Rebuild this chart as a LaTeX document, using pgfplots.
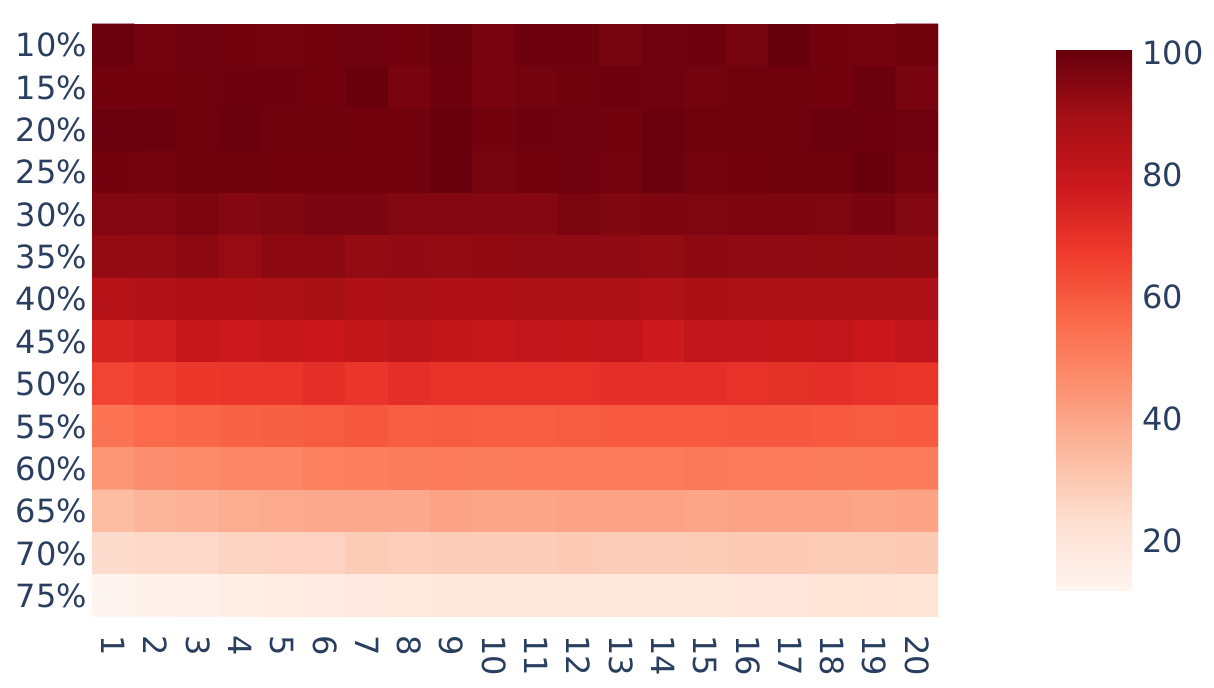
\documentclass[border=0pt]{standalone}
\usepackage{fontspec}
\setmainfont{DejaVu Sans}
\usepackage{pgfplots}
\pgfplotsset{compat=1.18}
\pgfplotsset{/pgf/number format/assume math mode=true}
\definecolor{txt}{RGB}{42,63,95}
\pgfplotsset{colormap={plotlyreds}{rgb255=(255,245,240) rgb255=(254,224,210) rgb255=(252,187,161) rgb255=(252,146,114) rgb255=(251,106,74) rgb255=(239,59,44) rgb255=(203,24,29) rgb255=(165,15,21) rgb255=(103,0,13)}}
\begin{document}
\begin{tikzpicture}
\path[use as bounding box] (0,0) rectangle (607pt,344pt);
\begin{axis}[
  at={(46pt,35.5pt)}, anchor=south west,
  scale only axis, width=423pt, height=296.5pt,
  xmin=0.5, xmax=20.5, ymin=0.5, ymax=14.5, y dir=reverse,
  enlargelimits=false,
  axis line style={draw=none}, major tick length=0pt,
  xtick={1,...,20}, ytick={1,...,14},
  xticklabels={1,2,3,4,5,6,7,8,9,10,11,12,13,14,15,16,17,18,19,20},
  yticklabels={10\%,15\%,20\%,25\%,30\%,35\%,40\%,45\%,50\%,55\%,60\%,65\%,70\%,75\%},
  tick label style={font=\fontsize{16}{19}\selectfont, text=txt},
  xticklabel style={rotate=-90, anchor=west, inner sep=0pt},
  xticklabel shift=9pt,
  yticklabel style={inner sep=0pt},
  yticklabel shift=2.3pt,
  colormap name=plotlyreds,
  point meta min=11.8, point meta max=100.4,
  colorbar,
  colorbar/width=38pt,
  colorbar style={
    scale only axis, width=38pt, height=270.5pt,
    at={(parent axis.north east)}, anchor=north west,
    xshift=50.5pt, yshift=-13pt,
    ytick={20,40,60,80,100},
    axis line style={draw=none}, major tick length=0pt,
    yticklabel style={font=\fontsize{16}{19}\selectfont, text=txt, inner sep=0pt},
    yticklabel shift=5pt,
  },
]
\addplot[matrix plot*, mesh/cols=20, point meta=explicit] table[row sep=\\, x=x, y=y, meta=v] {
x y v\\
1 1 99.5\\ 2 1 98\\ 3 1 99\\ 4 1 98.5\\ 5 1 98\\ 6 1 98.5\\ 7 1 99\\ 8 1 98.5\\ 9 1 99.8\\ 10 1 97.5\\ 11 1 99.3\\ 12 1 99.3\\ 13 1 97.8\\ 14 1 99\\ 15 1 99.3\\ 16 1 97.8\\ 17 1 100.4\\ 18 1 98.7\\ 19 1 98.2\\ 20 1 98.8\\
1 2 98.5\\ 2 2 98.5\\ 3 2 98.8\\ 4 2 99.4\\ 5 2 99.3\\ 6 2 98.5\\ 7 2 100\\ 8 2 97.3\\ 9 2 99.4\\ 10 2 97.3\\ 11 2 98.3\\ 12 2 98.8\\ 13 2 99.4\\ 14 2 99.1\\ 15 2 98.3\\ 16 2 98.8\\ 17 2 98.8\\ 18 2 98.5\\ 19 2 99.6\\ 20 2 97.6\\
1 3 99.7\\ 2 3 99.7\\ 3 3 98.9\\ 4 3 99.7\\ 5 3 98.9\\ 6 3 98.9\\ 7 3 98.6\\ 8 3 98.6\\ 9 3 100.1\\ 10 3 98.6\\ 11 3 99.4\\ 12 3 99.1\\ 13 3 98.6\\ 14 3 99.9\\ 15 3 98.9\\ 16 3 98.9\\ 17 3 98.9\\ 18 3 99.7\\ 19 3 99.3\\ 20 3 99.1\\
1 4 98.5\\ 2 4 98.1\\ 3 4 98.8\\ 4 4 98.8\\ 5 4 98.5\\ 6 4 98.5\\ 7 4 98.5\\ 8 4 98.5\\ 9 4 100.1\\ 10 4 97.7\\ 11 4 98.5\\ 12 4 99\\ 13 4 98.1\\ 14 4 99.8\\ 15 4 98.3\\ 16 4 98.5\\ 17 4 98.8\\ 18 4 98.8\\ 19 4 100\\ 20 4 97.9\\
1 5 95.5\\ 2 5 95.5\\ 3 5 96.5\\ 4 5 95\\ 5 5 96\\ 6 5 96.8\\ 7 5 96.8\\ 8 5 95.5\\ 9 5 95.5\\ 10 5 95.3\\ 11 5 95.3\\ 12 5 97\\ 13 5 96\\ 14 5 96.5\\ 15 5 96.3\\ 16 5 96.5\\ 17 5 96.5\\ 18 5 96.3\\ 19 5 97.3\\ 20 5 95.5\\
1 6 92.3\\ 2 6 92.3\\ 3 6 93.8\\ 4 6 91.8\\ 5 6 93.6\\ 6 6 93.6\\ 7 6 92.3\\ 8 6 92.8\\ 9 6 92.5\\ 10 6 93\\ 11 6 93.3\\ 12 6 93.3\\ 13 6 93.3\\ 14 6 92.5\\ 15 6 93.6\\ 16 6 93.3\\ 17 6 93.3\\ 18 6 93.1\\ 19 6 93.3\\ 20 6 93.1\\
1 7 84.5\\ 2 7 86\\ 3 7 86.5\\ 4 7 86.5\\ 5 7 87\\ 6 7 88.5\\ 7 7 86.5\\ 8 7 87\\ 9 7 86.5\\ 10 7 86.5\\ 11 7 87\\ 12 7 87.5\\ 13 7 87.5\\ 14 7 86\\ 15 7 88\\ 16 7 87.5\\ 17 7 87.5\\ 18 7 87\\ 19 7 87.5\\ 20 7 87.5\\
1 8 74.5\\ 2 8 76\\ 3 8 79.5\\ 4 8 78\\ 5 8 80\\ 6 8 79\\ 7 8 80.5\\ 8 8 82\\ 9 8 80.5\\ 10 8 80\\ 11 8 81.5\\ 12 8 81\\ 13 8 81.5\\ 14 8 77.5\\ 15 8 81.5\\ 16 8 81.5\\ 17 8 80.5\\ 18 8 81.5\\ 19 8 79\\ 20 8 81.5\\
1 9 65\\ 2 9 66.5\\ 3 9 68\\ 4 9 69\\ 5 9 69\\ 6 9 71\\ 7 9 69\\ 8 9 71\\ 9 9 70\\ 10 9 70\\ 11 9 70\\ 12 9 70\\ 13 9 71\\ 14 9 71\\ 15 9 71\\ 16 9 70\\ 17 9 70.5\\ 18 9 71\\ 19 9 70\\ 20 9 69.5\\
1 10 53.5\\ 2 10 56\\ 3 10 57\\ 4 10 58\\ 5 10 58.5\\ 6 10 59.5\\ 7 10 60.5\\ 8 10 59\\ 9 10 59.5\\ 10 10 59\\ 11 10 59\\ 12 10 59.5\\ 13 10 60\\ 14 10 60\\ 15 10 60\\ 16 10 60.5\\ 17 10 60.5\\ 18 10 60\\ 19 10 59.5\\ 20 10 60\\
1 11 44\\ 2 11 46\\ 3 11 47\\ 4 11 48\\ 5 11 48.5\\ 6 11 50\\ 7 11 50.5\\ 8 11 51\\ 9 11 51.5\\ 10 11 51\\ 11 11 51.5\\ 12 11 51.5\\ 13 11 51.5\\ 14 11 51.5\\ 15 11 52\\ 16 11 51.5\\ 17 11 51.5\\ 18 11 51\\ 19 11 51.5\\ 20 11 51.5\\
1 12 33.5\\ 2 12 35.5\\ 3 12 36\\ 4 12 38\\ 5 12 38.5\\ 6 12 39\\ 7 12 39\\ 8 12 39\\ 9 12 40.5\\ 10 12 40\\ 11 12 40\\ 12 12 40.5\\ 13 12 40.5\\ 14 12 40.5\\ 15 12 40\\ 16 12 40.5\\ 17 12 40.5\\ 18 12 40.5\\ 19 12 40\\ 20 12 40.5\\
1 13 24\\ 2 13 25\\ 3 13 25\\ 4 13 26.5\\ 5 13 27\\ 6 13 27\\ 7 13 29\\ 8 13 28\\ 9 13 28.5\\ 10 13 28.5\\ 11 13 28.5\\ 12 13 29.5\\ 13 13 28.5\\ 14 13 28.5\\ 15 13 29\\ 16 13 29.5\\ 17 13 29.5\\ 18 13 29\\ 19 13 29\\ 20 13 29.5\\
1 14 11.8\\ 2 14 13.5\\ 3 14 14\\ 4 14 15.5\\ 5 14 16\\ 6 14 17\\ 7 14 17.5\\ 8 14 18\\ 9 14 18.5\\ 10 14 19\\ 11 14 18.5\\ 12 14 19\\ 13 14 19\\ 14 14 19\\ 15 14 19\\ 16 14 19.5\\ 17 14 19.5\\ 18 14 20.5\\ 19 14 21.5\\ 20 14 20.5\\
};
\end{axis}
\end{tikzpicture}
\end{document}
